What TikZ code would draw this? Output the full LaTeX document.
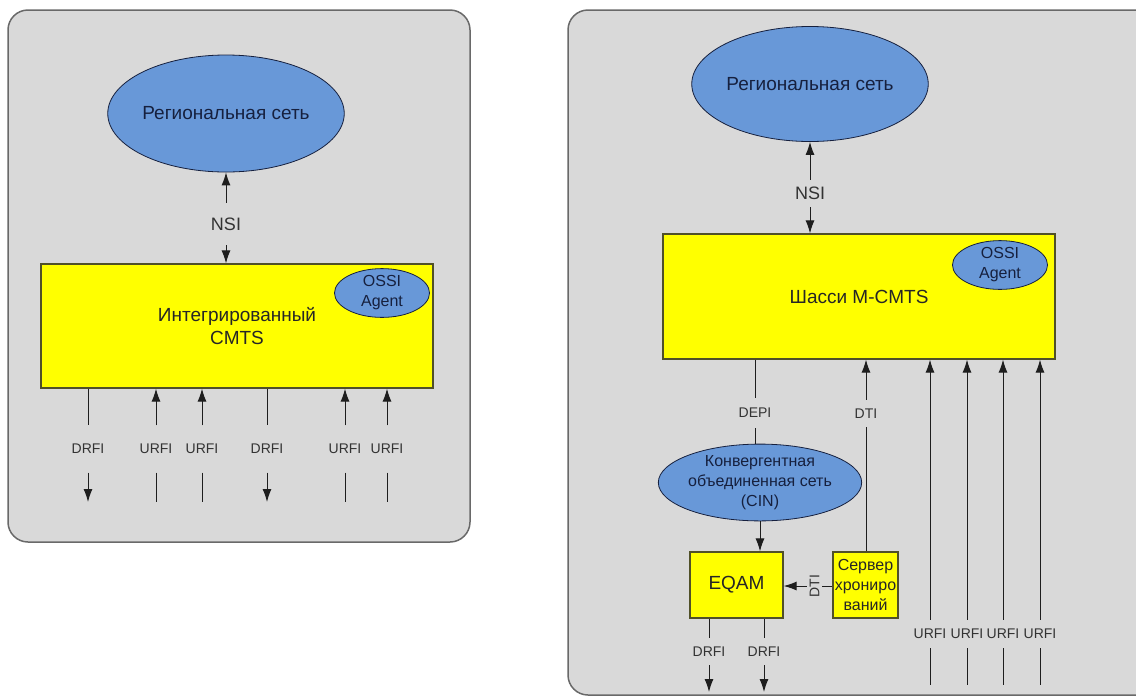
\documentclass[tikz,border=0pt]{standalone}
\usepackage{fontspec}
\setmainfont{Liberation Sans}
\usepackage{tikz}
\usetikzlibrary{
  arrows.meta,
  positioning,
  shapes.geometric
}
\definecolor{PanelFill}{RGB}{217,217,217}
\definecolor{PanelLine}{RGB}{105,105,105}
\definecolor{NetBlue}{RGB}{104,152,216}
\definecolor{NetText}{RGB}{22,32,62}
\definecolor{BoxLine}{RGB}{80,80,40}
\definecolor{BoxFill}{RGB}{255,255,0}
\definecolor{LinkGray}{RGB}{30,30,30}

\begin{document}
\begin{tikzpicture}[
  x=1pt, y=-1pt,
  >={Latex[length=13pt,width=9pt]},
  panel/.style={draw=PanelLine, line width=1.5pt, fill=PanelFill, rounded corners=20pt},
  net/.style={ellipse, draw=NetText, line width=0.8pt, fill=NetBlue, text=NetText, inner sep=0pt, align=center},
  ybox/.style={draw=BoxLine, line width=1.2pt, fill=BoxFill, text=black!85, inner sep=0pt, align=center},
  lbl/.style={inner sep=0pt, text=black!80, font=\fontsize{14}{16}\selectfont},
  link/.style={draw=LinkGray, line width=1pt},
  big/.style={font=\fontsize{19}{23}\selectfont},
  mid/.style={font=\fontsize{16}{20}\selectfont},
]
  \clip (0,0) rectangle (1136,697);
  \fill[white] (0,0) rectangle (1136,697);

  % panels
  \draw[panel] (8,10) rectangle (470,542);
  \draw[panel] (568,10) rectangle (1180,695);

  % integrated CMTS
  \node[net, big, minimum width=232pt, minimum height=117pt] (netL) at (226,113.5) {Региональная сеть};
  \node[lbl, font=\fontsize{18}{20}\selectfont, minimum height=42pt] (nsiL) at (226,224) {NSI};
  \node[ybox, big, minimum width=392pt, minimum height=124pt] (cmtsL) at (237,326) {Интегрированный\\CMTS};
  \node[net, mid, minimum width=95pt, minimum height=46pt] (ossiL) at (382,293) {OSSI\\Agent};
  \draw[link, ->] (nsiL.north) -- (netL.south);
  \draw[link, ->] (nsiL.south) -- (nsiL.south |- cmtsL.north);

  \foreach \x [count=\i] in {88,267} {
    \node[lbl, minimum height=47pt] (ld\i) at (\x,449) {DRFI};
    \coordinate (ed\i) at (\x,502);
    \draw[link] (cmtsL.south -| ld\i) -- (ld\i.north);
    \draw[link, ->] (ld\i.south) -- (ed\i);
  }
  \foreach \x [count=\i] in {156,202,345,387} {
    \node[lbl, minimum height=47pt] (lu\i) at (\x,449) {URFI};
    \coordinate (eu\i) at (\x,502);
    \draw[link, ->] (lu\i.north) -- (cmtsL.south -| lu\i);
    \draw[link] (lu\i.south) -- (eu\i);
  }

  % modular CMTS
  \node[net, big, minimum width=203pt, minimum height=115pt] (netR) at (810,84) {Региональная сеть};
  \node[lbl, font=\fontsize{18}{20}\selectfont, minimum height=27pt] (nsiR) at (810,193.5) {NSI};
  \node[ybox, big, minimum width=392pt, minimum height=125pt] (chassis) at (859,296.5) {Шасси M-CMTS};
  \node[net, mid, minimum width=95pt, minimum height=47pt] (ossiR) at (1000,265) {OSSI\\Agent};
  \draw[link, ->] (nsiR.north) -- (netR.south);
  \draw[link, ->] (nsiR.south) -- (nsiR.south |- chassis.north);

  \node[net, mid, minimum width=157pt, minimum height=75pt] (cin) at (760,482.5)
    {Конвергентная\\объединенная сеть\\(CIN)};
  \node[ybox, big, minimum width=93pt, minimum height=66pt] (eqam) at (736.5,585) {EQAM};
  \node[ybox, mid, minimum width=65pt, minimum height=66pt] (srv) at (865.5,585) {Сервер\\хрониро\\ваний};

  \node[lbl, minimum height=30pt] (depi) at (755,413) {DEPI};
  \draw[link] (chassis.south -| depi) -- (depi.north);
  \draw[link] (depi.south) -- (depi.south |- cin.north);
  \draw[link, ->] (cin.south) -- (cin.south |- eqam.north);

  \node[lbl, minimum height=27pt] (dtiV) at (866,413.5) {DTI};
  \draw[link, ->] (dtiV.north) -- (chassis.south -| dtiV);
  \draw[link] (srv.north -| dtiV) -- (dtiV.south);

  \node[lbl, rotate=90, minimum height=15pt] (dtiH) at (814.5,586) {DTI};
  \draw[link] (srv.west |- dtiH) -- (dtiH.south);
  \draw[link, ->] (dtiH.north) -- (eqam.east |- dtiH);

  \foreach \x [count=\i] in {709,764} {
    \node[lbl, minimum height=27pt] (rd\i) at (\x,651.5) {DRFI};
    \coordinate (erd\i) at (\x,692);
    \draw[link] (eqam.south -| rd\i) -- (rd\i.north);
    \draw[link, ->] (rd\i.south) -- (erd\i);
  }
  \foreach \x [count=\i] in {930,967,1003,1040} {
    \node[lbl, minimum height=28pt] (ru\i) at (\x,634) {URFI};
    \coordinate (eru\i) at (\x,685);
    \draw[link, ->] (ru\i.north) -- (chassis.south -| ru\i);
    \draw[link] (ru\i.south) -- (eru\i);
  }
\end{tikzpicture}
\end{document}
